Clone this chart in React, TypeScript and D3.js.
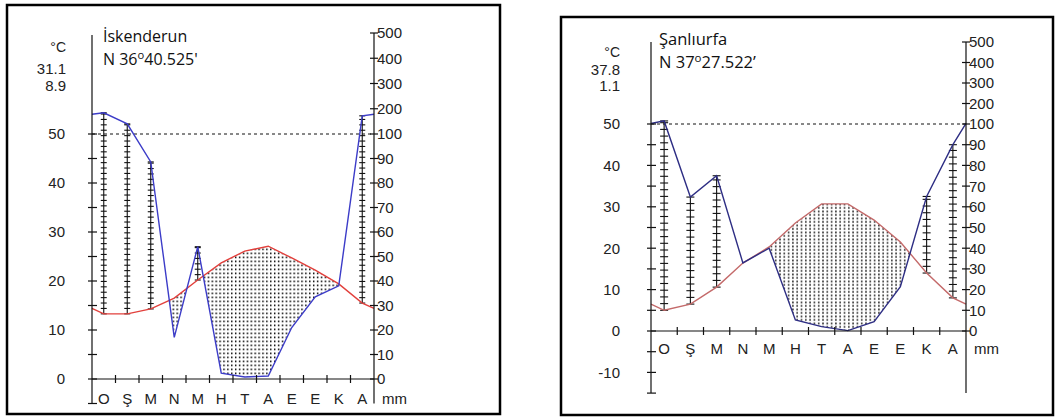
import React from 'react';
import * as d3 from 'd3';

// ---------- data ----------
const months = ['O', 'Ş', 'M', 'N', 'M', 'H', 'T', 'A', 'E', 'E', 'K', 'A'];

const iskTemp = [13.3, 13.3, 14.3, 16.5, 20.2, 23.7, 26.1, 27.1, 24.7, 22.2, 19.4, 15.5];
const iskPrec = [184, 140, 88.6, 17, 54, 2.4, 0.8, 1.2, 21, 33.5, 38, 172];

const urfaTemp = [5.0, 6.5, 10.6, 16.4, 20.3, 26.1, 30.7, 30.7, 26.8, 21.5, 14.0, 8.0];
const urfaPrec = [115, 64.7, 75, 32.9, 40, 5.3, 2.1, 0.2, 4.5, 21.4, 65, 90];

const iskTempLabels = [0, 10, 20, 30, 40, 50];
const urfaTempLabels = [-10, 0, 10, 20, 30, 40, 50];
const precLabels = [0, 10, 20, 30, 40, 50, 60, 70, 80, 90, 100, 200, 300, 400, 500];

const iskHeader = { name: 'İskenderun', lat: 'N 36', latRest: '40.525\'', tMax: '31.1', tMin: '8.9' };
const urfaHeader = { name: 'Şanlıurfa', lat: 'N 37', latRest: '27.522\u2019', tMax: '37.8', tMin: '1.1' };

// ---------- layout ----------
const iskLayout = {
  id: 'isk',
  box: [7, 5, 493, 409],
  xl: 92, xr: 374,
  y0: 379, y50: 134, y500: 33,
  leftTop: 35, tMin: -5,
  rung: 5.4, rungHalf: 3,
  dotW: 3.9, dotH: 4,
  red: '#e2403c', blue: '#3c3cc8',
  headX: 66, headY: [47, 69, 86],
  titleX: 103, titleY: [42, 65], titleSize: 16,
  monthY: 399,
  leftLabelGap: 27,
};
const urfaLayout = {
  id: 'urfa',
  box: [561, 17, 492, 398],
  xl: 651, xr: 966,
  y0: 331, y50: 124, y500: 42,
  leftTop: 42, tMin: -15,
  rung: 6.7, rungHalf: 4,
  dotW: 4.3, dotH: 3.5,
  red: '#c46a6a', blue: '#2e2e84',
  headX: 620, headY: [52, 70, 86],
  titleX: 659, titleY: [45, 68], titleSize: 16.5,
  monthY: 349,
  leftLabelGap: 31,
};

const numFont = '"Liberation Sans", Arial, sans-serif';
const titleFont = '"Open Sans", "Noto Sans", sans-serif';

function Chart({ L, temp, prec, tLabels, head }: any) {
  const x = d3.scaleLinear().domain([0, 12]).range([L.xl, L.xr]);
  const t = d3.scaleLinear().domain([0, 50]).range([L.y0, L.y50]);
  const p = d3.scaleLinear().domain([0, 100, 500]).range([L.y0, L.y50, L.y500]);

  const tEdge = (temp[0] + temp[11]) / 2;
  const pEdge = (prec[0] + prec[11]) / 2;
  const tPts: [number, number][] = [[0, tEdge], ...temp.map((v: number, i: number) => [i + 0.5, v] as [number, number]), [12, tEdge]];
  const pPts: [number, number][] = [[0, pEdge], ...prec.map((v: number, i: number) => [i + 0.5, v] as [number, number]), [12, pEdge]];

  const tLine = d3.line<[number, number]>().x(d => x(d[0])).y(d => t(d[1]))(tPts) || '';
  const pLine = d3.line<[number, number]>().x(d => x(d[0])).y(d => p(d[1]))(pPts) || '';
  const clipArea = d3.area<[number, number]>().x(d => x(d[0])).y0(L.y500 - 10).y1(d => p(d[1]))(pPts) || '';
  const fillArea = d3.area<[number, number]>().x(d => x(d[0])).y0(d => t(d[1])).y1(L.y0)(tPts) || '';

  const axisColor = '#111';
  const tTicks = d3.range(L.tMin, 50.001, 5);
  const ladders: any[] = [];
  months.forEach((_, i) => {
    const yr = t(temp[i]);
    const yb = p(prec[i]);
    if (yb < yr - 1) {
      const cx = x(i + 0.5);
      const rungs = [];
      for (let y = yr; y > yb; y -= L.rung) rungs.push(y);
      rungs.push(yb);
      ladders.push(
        <g key={'lad' + i} stroke="#111" strokeWidth={1.1}>
          <line x1={cx} x2={cx} y1={yr} y2={yb} />
          {rungs.map((y, k) => (
            <line key={k} x1={cx - L.rungHalf} x2={cx + L.rungHalf} y1={y} y2={y} />
          ))}
        </g>
      );
    }
  });

  const [bx, by, bw, bh] = L.box;
  return (
    <g>
      <defs>
        <pattern id={L.id + 'dots'} width={L.dotW} height={L.dotH} patternUnits="userSpaceOnUse">
          <rect x={1} y={0.5} width={1.4} height={1.8} fill="#111" />
        </pattern>
        <clipPath id={L.id + 'clip'}>
          <path d={clipArea} />
        </clipPath>
      </defs>
      <rect x={bx} y={by} width={bw} height={bh} fill="#fff" stroke="#000" strokeWidth={2.5} />

      {/* arid stipple */}
      <path d={fillArea} fill={`url(#${L.id}dots)`} clipPath={`url(#${L.id}clip)`} />

      {/* humid ladders */}
      {ladders}

      {/* 100 mm dashed line */}
      <line x1={L.xl} x2={L.xr} y1={p(100)} y2={p(100)} stroke="#111" strokeDasharray="3,3" strokeWidth={1} />

      {/* curves */}
      <path d={tLine} fill="none" stroke={L.red} strokeWidth={1.4} />
      <path d={pLine} fill="none" stroke={L.blue} strokeWidth={1.4} />

      {/* left axis */}
      <line x1={L.xl} x2={L.xl} y1={L.leftTop} y2={t(L.tMin)} stroke={axisColor} strokeWidth={1.2} />
      {tTicks.map(v => (
        <line key={'tt' + v} x1={L.xl - 4} x2={L.xl + 5} y1={t(v)} y2={t(v)} stroke={axisColor} strokeWidth={1.2} />
      ))}
      {tLabels.map((v: number) => (
        <text key={'tl' + v} x={L.xl - L.leftLabelGap} y={t(v)} dy="0.36em" textAnchor="end"
          fontFamily={numFont} fontSize={15} fill="#222">{v}</text>
      ))}

      {/* right axis */}
      <line x1={L.xr} x2={L.xr} y1={p(500)} y2={t(L.tMin)} stroke={axisColor} strokeWidth={1.2} />
      {precLabels.map(v => (
        <g key={'pl' + v}>
          <line x1={L.xr - 4} x2={L.xr + 4} y1={p(v)} y2={p(v)} stroke={axisColor} strokeWidth={1.2} />
          <text x={L.xr + 3} y={p(v)} dy="0.36em" fontFamily={numFont} fontSize={15} fill="#222">{v}</text>
        </g>
      ))}

      {/* x axis */}
      <line x1={L.xl} x2={L.xr} y1={L.y0} y2={L.y0} stroke={axisColor} strokeWidth={1.2} />
      {d3.range(1, 12).map(k => (
        <line key={'xt' + k} x1={x(k)} x2={x(k)} y1={L.y0 - 4} y2={L.y0 + 4} stroke={axisColor} strokeWidth={1.2} />
      ))}
      {months.map((m, i) => (
        <text key={'m' + i} x={x(i + 0.5)} y={L.monthY} dy="0.36em" textAnchor="middle"
          fontFamily={numFont} fontSize={15} fill="#222">{m}</text>
      ))}
      <text x={L.xr + 8} y={L.monthY} dy="0.36em" fontFamily={numFont} fontSize={15} fill="#222">mm</text>

      {/* header */}
      <text x={L.headX} y={L.headY[0]} dy="0.36em" textAnchor="end" fontFamily={numFont} fontSize={14} fill="#222">°C</text>
      <text x={L.headX} y={L.headY[1]} dy="0.36em" textAnchor="end" fontFamily={numFont} fontSize={15} fill="#222">{head.tMax}</text>
      <text x={L.headX} y={L.headY[2]} dy="0.36em" textAnchor="end" fontFamily={numFont} fontSize={15} fill="#222">{head.tMin}</text>
      <text x={L.titleX} y={L.titleY[0]} fontFamily={titleFont} fontSize={L.titleSize} fill="#111">{head.name}</text>
      <text x={L.titleX} y={L.titleY[1]} fontFamily={titleFont} fontSize={L.titleSize} fill="#111">
        {head.lat}
        <tspan fontSize={L.titleSize * 0.7} dy={-6}>o</tspan>
        <tspan dy={6}>{head.latRest}</tspan>
      </text>
    </g>
  );
}

export default function App() {
  return (
    <svg width={1059} height={418} style={{ position: 'absolute', left: 0, top: 0, background: '#fff' }}>
      <rect x={0} y={0} width={1059} height={418} fill="#fff" />
      <Chart L={iskLayout} temp={iskTemp} prec={iskPrec} tLabels={iskTempLabels} head={iskHeader} />
      <Chart L={urfaLayout} temp={urfaTemp} prec={urfaPrec} tLabels={urfaTempLabels} head={urfaHeader} />
    </svg>
  );
}
